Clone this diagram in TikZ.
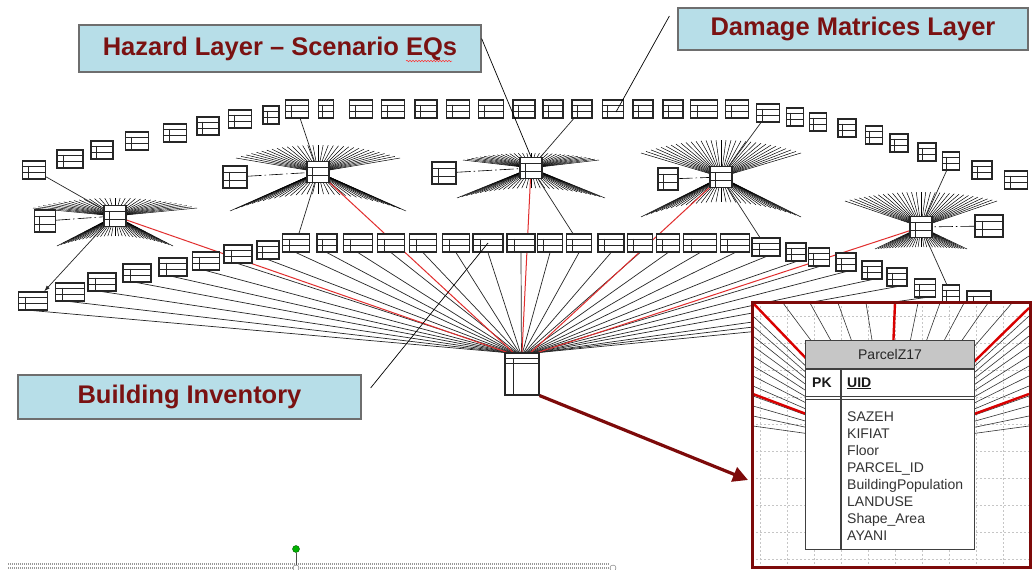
\documentclass[tikz,border=0pt]{standalone}
\usepackage{fontspec}
\setmainfont{Liberation Sans}
\usetikzlibrary{arrows.meta,positioning,calc,backgrounds,decorations.pathmorphing}

\definecolor{boxfill}{RGB}{183,222,232}
\definecolor{boxtext}{RGB}{122,18,18}
\definecolor{boxedge}{RGB}{110,110,110}
\definecolor{zoomred}{RGB}{125,10,10}
\definecolor{relred}{RGB}{225,45,45}

\tikzset{
  tbl/.style={draw=black!85, line width=1.2pt, fill=white, inner sep=0pt,
    minimum width=#1pt, minimum height=18pt,
    path picture={
      \coordinate (nw) at (path picture bounding box.north west);
      \coordinate (ne) at (path picture bounding box.north east);
      \coordinate (sw) at (path picture bounding box.south west);
      \coordinate (se) at (path picture bounding box.south east);
      \draw[line width=0.8pt] ($(nw)!0.3!(sw)$) -- ($(ne)!0.3!(se)$)
        ($(nw)!0.66!(sw)$) -- ($(ne)!0.66!(se)$)
        ($(nw)!0.25!(se)$) -- ($(sw)!0.25!(se)$);}},
  tbl/.default=23,
  bigtbl/.style={draw=black!85, line width=1.1pt, fill=white, inner sep=0pt,
    minimum width=34pt, minimum height=42pt,
    path picture={
      \coordinate (nw) at (path picture bounding box.north west);
      \coordinate (ne) at (path picture bounding box.north east);
      \coordinate (sw) at (path picture bounding box.south west);
      \coordinate (se) at (path picture bounding box.south east);
      \draw[line width=0.8pt] ($(nw)!0.12!(sw)$) -- ($(ne)!0.12!(se)$)
        ($(nw)!0.24!(sw)$) -- ($(ne)!0.24!(se)$)
        let \p1=($(nw)!0.25!(ne)$), \p2=($(nw)!0.12!(sw)$), \p3=(sw) in (\x1,\y2) -- (\x1,\y3);}},
  layerlabel/.style={draw=boxedge, line width=1.2pt, fill=boxfill, text=boxtext,
    font=\fontsize{25.5}{30}\selectfont\bfseries, inner sep=0pt},
  fanline/.style={line width=0.5pt, black},
  rel/.style={line width=0.7pt, black!85},
  relhot/.style={line width=1pt, relred},
  sidelink/.style={line width=0.6pt, dash pattern=on 14pt off 3pt on 1.5pt off 3pt},
  pointer/.style={line width=0.7pt, black},
  zoomline/.style={line width=0.6pt, black!80},
  zoomhot/.style={line width=2.4pt, red!85!black},
  gridline/.style={gray!45, line width=0.4pt, dash pattern=on 2pt off 2pt},
  fieldtxt/.style={font=\fontsize{14}{16}\selectfont, text=black!80, anchor=base west, inner sep=0pt},
}

% node, upper half-width, upper outer rise, upper top rise, lower half-width, lower outer drop, lower centre drop
\newcommand\hubfan[7]{%
  \foreach \k in {-16,...,16}{%
    \draw[fanline] (#1.center) -- ++({#2*\k/16},{-(#3+(#4-#3)*(1-\k*\k/256))});
    \draw[fanline] (#1.center) -- ++({#5*\k/16},{#7+(#6-#7)*\k*\k/256});
  }}

\begin{document}
\begin{tikzpicture}[x=1pt, y=-1pt]
\useasboundingbox (0,0) rectangle (1036,570);

% outer ring of tables
\foreach \x/\y/\w [count=\i] in {34/170/23, 70/159/26, 102/150/22, 137/141/23, 175/133/23,
    208/126/22, 240/119/23, 271/115/16, 297/109/23, 326/109/15, 361/109/23, 393/109/23,
    426/109/22, 458/109/23, 491/109/25, 524/109/22, 553/109/20, 582/109/20, 613/109/21,
    643/109/20, 673/109/20, 704/109/27, 737/109/23, 768/113/23, 795/117/17, 818/122/17,
    847/128/18, 874/135/17, 899/143/18, 927/152/18, 951/161/17, 982/170/20, 1016/180/23}
  \node[tbl=\w] (t\i) at (\x,\y) {};

% inner ring of tables
\foreach \x/\y/\w [count=\i] in {33/301/29, 70/292/29, 102/282/28, 137/273/28, 173/267/28,
    206/261/27, 238/254/28, 268/250/22, 296/243/27, 327/243/20, 358/243/29, 391/243/27,
    423/243/27, 456/243/27, 488/243/30, 521/243/28, 550/243/25, 579/243/25, 611/243/26,
    640/243/25, 668/243/23, 700/243/33, 735/243/29, 766/247/28, 796/252/20, 819/257/21,
    846/262/20, 872/270/20, 897/277/20, 925/288/21, 951/294/17, 979/300/24}
  \node[tbl=\w] (m\i) at (\x,\y) {};

% hubs and their side tables
\foreach \x/\y [count=\i] in {115/216, 318/172, 531/168, 721/177, 921/227}
  \node[tbl=22, minimum height=21pt] (h\i) at (\x,\y) {};
\foreach \x/\y/\w [count=\i] in {45/221/21, 235/177/24, 444/173/24, 668/179/20, 989/226/28}
  \node[tbl=\w, minimum height=22pt] (s\i) at (\x,\y) {};

\node[bigtbl] (ctr) at (522,374) {};

\begin{scope}[on background layer]
  \fill[white] (0,0) rectangle (1036,570);
  \hubfan{h1}{82}{8}{18}{58}{30}{20}
  \hubfan{h2}{82}{14}{27}{88}{39}{22}
  \hubfan{h3}{68}{8}{15}{74}{30}{20}
  \hubfan{h4}{80}{24}{37}{80}{40}{25}
  \hubfan{h5}{76}{26}{35}{46}{22}{20}
  \foreach \i in {1,...,32}
    \draw[rel] (m\i.south) -- ($(ctr.north west)!{(\i-1)/31}!(ctr.north east)$);
  \foreach \i in {1,...,5}
    \draw[sidelink] (s\i) -- (h\i);
  \draw[rel] (h1) -- (t1);
  \draw[rel] (h2) -- (t9);
  \draw[rel] (h2) -- (m9);
  \draw[rel] (h3) -- (t18);
  \draw[rel] (h3) -- (m18);
  \draw[rel] (h4) -- (t24);
  \draw[rel] (h4) -- (m24);
  \draw[rel] (h5) -- (t31);
  \draw[rel] (h5) -- (m31);
  \foreach \i/\f in {1/0.08, 2/0.25, 3/0.5, 4/0.75, 5/0.95}
    \draw[relhot] (h\i) -- ($(ctr.north west)!\f!(ctr.north east)$);
\end{scope}
\draw[rel, -{Latex[length=6pt,width=4pt]}] (h1.south west) -- ([xshift=-4pt]m1.north east);

% layer labels
\node[layerlabel, minimum width=402pt, minimum height=47pt] (hazard) at (280,48.5) {Hazard Layer -- Scenario EQs};
\node[layerlabel, minimum width=350pt, minimum height=42pt] (damage) at (853,29) {Damage Matrices Layer};
\node[layerlabel, minimum width=343pt, minimum height=44pt] (build) at (189.5,397) {Building Inventory};
\draw[red!80, line width=0.5pt, decorate, decoration={snake, amplitude=0.8pt, segment length=3pt}]
  (406,61) -- (452,61);

\draw[pointer] ([yshift=10pt]hazard.east) -- (h3.north);
\draw[pointer] ([xshift=-8pt,yshift=13pt]damage.west) -- ([xshift=3pt,yshift=-3pt]t19.center);
\draw[pointer] ([xshift=9pt,yshift=9pt]build.east) -- (m15.center);

% zoomed view of the inventory table
\node[fill=white, minimum width=278pt, minimum height=265pt, inner sep=0pt, anchor=north west] (inset) at (752,302) {};
\coordinate (focus) at (889,445);
\begin{scope}
  \clip (inset.north west) rectangle (inset.south east);
  \foreach \gx in {760,787,...,1030}
    \draw[gridline] (\gx,302) -- (\gx,567);
  \foreach \gy in {316,343,...,567}
    \draw[gridline] (752,\gy) -- (1030,\gy);
  \foreach \ly in {316,326,...,426}
    \draw[zoomline] (focus) -- (753,\ly);
  \foreach \tx in {783,810,838,866,918,940,964,988,1012}
    \draw[zoomline] (focus) -- (\tx,303);
  \foreach \ry in {316,326,...,426}
    \draw[zoomline] (focus) -- (1029,\ry);
  \draw[zoomhot] (focus) -- (753,303);
  \draw[zoomhot] (focus) -- (753,394);
  \draw[zoomhot] (focus) -- (895,303);
  \draw[zoomhot] (focus) -- (1029,308);
  \draw[zoomhot] (focus) -- (1029,394);
\end{scope}
\draw[zoomred, line width=3pt] (inset.north west) rectangle (inset.south east);

\node[draw=black!75, line width=1.1pt, fill=gray!45, minimum width=169pt, minimum height=28pt,
  inner sep=0pt, anchor=north west, font=\fontsize{14}{16}\selectfont, text=black!85] (phead) at (805,340) {ParcelZ17};
\node[draw=black!75, line width=1.1pt, fill=white, minimum width=169pt, minimum height=180pt,
  inner sep=0pt, below=0pt of phead] (pbody) {};
\draw[black!75, line width=0.9pt] ([yshift=-27pt]pbody.north west) -- ([yshift=-27pt]pbody.north east)
  ([yshift=-30pt]pbody.north west) -- ([yshift=-30pt]pbody.north east);
\draw[black!75, line width=1.1pt] ([xshift=36pt]pbody.north west) -- ([xshift=36pt]pbody.south west);
\node[fieldtxt, font=\fontsize{14}{16}\selectfont\bfseries, text=black!90] (pk) at (812,387) {PK};
\node[fieldtxt, font=\fontsize{14}{16}\selectfont\bfseries, text=black!90] (uid) at (847,387) {\underline{UID}};
\foreach \f [count=\i] in {SAZEH, KIFIAT, Floor, PARCEL\_ID, BuildingPopulation, LANDUSE, Shape\_Area, AYANI}
  \node[fieldtxt] (f\i) at (847,{421+17*(\i-1)}) {\f};

\coordinate (tip) at (748,480);
\draw[zoomred, line width=3.2pt, -{Triangle[length=15pt,width=15pt]}] (ctr.south east) -- (tip);

% selection handle along the bottom
\node[circle, draw=green!35!black, fill=green!70!black, minimum size=7pt, inner sep=0pt] (grip) at (296,549) {};
\node[circle, draw=black!60, fill=white, minimum size=6pt, inner sep=0pt] (gl) at (296,568) {};
\node[circle, draw=black!60, fill=white, minimum size=6pt, inner sep=0pt] (gr) at (613,568) {};
\begin{scope}[on background layer]
  \draw[gray!80, line width=1.6pt, dash pattern=on 1pt off 1pt] (8,564) -- (gr.west |- 0,564);
  \draw[gray!80, line width=1.6pt, dash pattern=on 1pt off 1pt] (8,568) -- (gr.west);
\end{scope}
\draw[black!70, line width=0.6pt] (grip) -- (gl);
\end{tikzpicture}
\end{document}
